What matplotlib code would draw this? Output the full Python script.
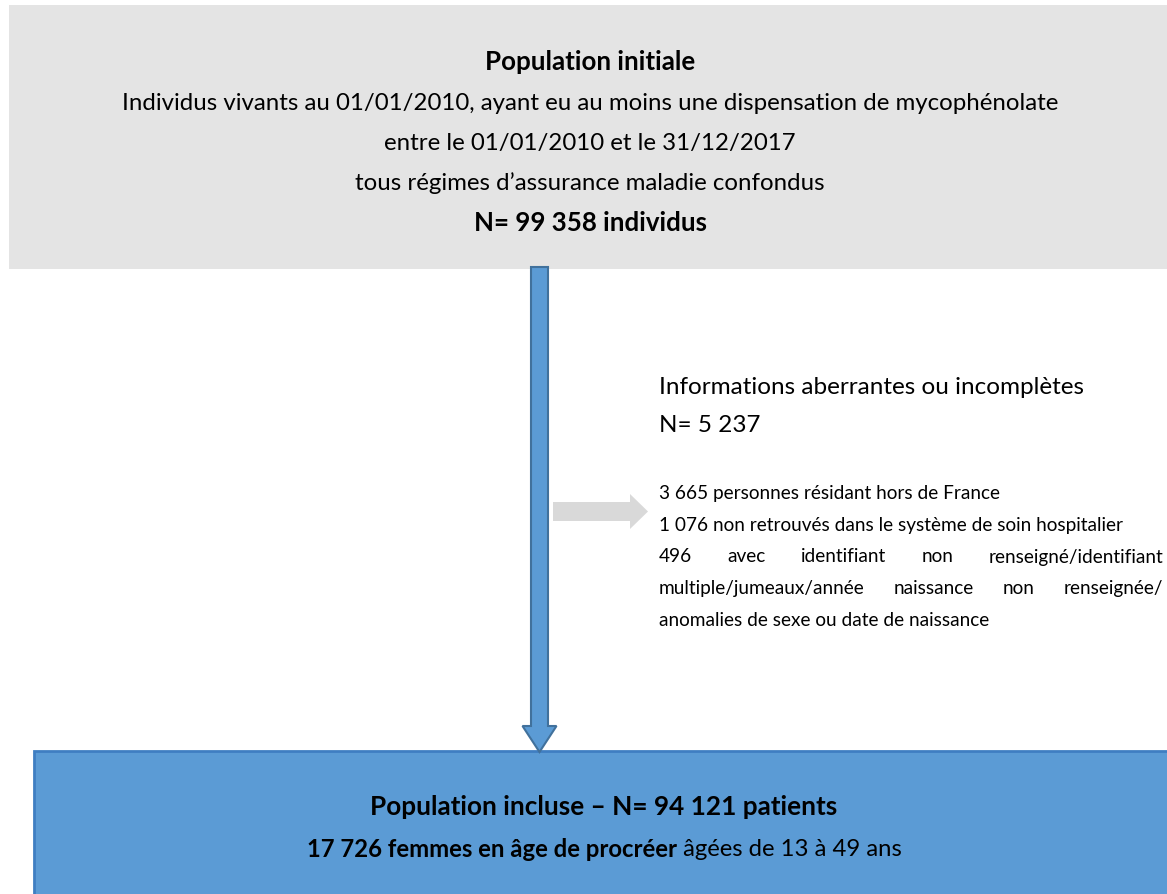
import matplotlib.pyplot as plt
from matplotlib.patches import Rectangle, FancyArrow

plt.rcParams['font.family'] = ['Lato', 'DejaVu Sans']

# textes du diagramme
top_title = "Population initiale"
top_lines = ["Individus vivants au 01/01/2010, ayant eu au moins une dispensation de mycophénolate",
             "entre le 01/01/2010 et le 31/12/2017",
             "tous régimes d\u2019assurance maladie confondus"]
top_n = "N= 99 358 individus"

excl_title = "Informations aberrantes ou incomplètes"
excl_n = "N= 5 237"
excl_details = ["3 665 personnes résidant hors de France",
                "1 076 non retrouvés dans le système de soin hospitalier",
                "496 avec identifiant non renseigné/identifiant",
                "multiple/jumeaux/année naissance non renseignée/",
                "anomalies de sexe ou date de naissance"]
excl_justified = [False, False, True, True, False]

bottom_title = "Population incluse \u2013 N= 94 121 patients"
bottom_bold = "17 726 femmes en âge de procréer"
bottom_rest = " âgées de 13 à 49 ans"

W, H = 1167, 895
fig = plt.figure(figsize=(W / 100, H / 100), dpi=100)
ax = fig.add_axes([0, 0, 1, 1])
ax.set_xlim(0, W)
ax.set_ylim(H, 0)
ax.axis("off")

blue = "#5B9BD5"
blue_edge = "#41719C"

# boite du haut
ax.add_patch(Rectangle((9, 6), 1200, 264, facecolor="#E4E4E4", edgecolor="none"))
ax.text(590, 62, top_title, ha="center", va="center", fontsize=18.6, fontweight="bold")
for i, line in enumerate(top_lines):
    ax.text(590, 103 + 40 * i, line, ha="center", va="center", fontsize=17.3)
ax.text(590, 223, top_n, ha="center", va="center", fontsize=18.6, fontweight="bold")

# fleche bleue verticale
ax.add_patch(FancyArrow(539.5, 268, 0, 485, width=17, head_width=34, head_length=26,
                        length_includes_head=True, facecolor=blue, edgecolor=blue_edge,
                        linewidth=1.5, zorder=3))

# fleche grise
ax.add_patch(FancyArrow(553, 512.5, 95, 0, width=19, head_width=35, head_length=18,
                        length_includes_head=True, facecolor="#D9D9D9", edgecolor="none"))

# exclusions
x0, x1 = 659, 1163
ax.text(x0, 387, excl_title, ha="left", va="center", fontsize=17.5)
ax.text(x0, 426, excl_n, ha="left", va="center", fontsize=17.5)

fig.canvas.draw()
renderer = fig.canvas.get_renderer()
inv = ax.transData.inverted()


def width_of(t):
    bb = t.get_window_extent(renderer=renderer)
    a = inv.transform((bb.x0, bb.y0))
    b = inv.transform((bb.x1, bb.y1))
    return abs(b[0] - a[0])


for i, (line, just) in enumerate(zip(excl_details, excl_justified)):
    y = 494 + 31.5 * i
    if not just:
        ax.text(x0, y, line, ha="left", va="center", fontsize=13.7)
        continue
    words = line.split(" ")
    arts = [ax.text(0, y, w, ha="left", va="center", fontsize=13.7) for w in words]
    widths = [width_of(a) for a in arts]
    gap = (x1 - x0 - sum(widths)) / (len(words) - 1)
    x = x0
    for a, w in zip(arts, widths):
        a.set_x(x)
        x += w + gap

# boite du bas
ax.add_patch(Rectangle((34, 752), 1200, 200, facecolor=blue, edgecolor="#3F7EC2",
                       linewidth=2, zorder=2))
ax.text(604, 807, bottom_title, ha="center", va="center", fontsize=18.8,
        fontweight="bold", zorder=4)
t1 = ax.text(0, 850, bottom_bold, ha="left", va="center", fontsize=17.2, fontweight="bold", zorder=4)
t2 = ax.text(0, 850, bottom_rest, ha="left", va="center", fontsize=17.2, zorder=4)
w1, w2 = width_of(t1), width_of(t2)
start = 604 - (w1 + w2) / 2
t1.set_x(start)
t2.set_x(start + w1)

fig.savefig("out.png", dpi=100)
